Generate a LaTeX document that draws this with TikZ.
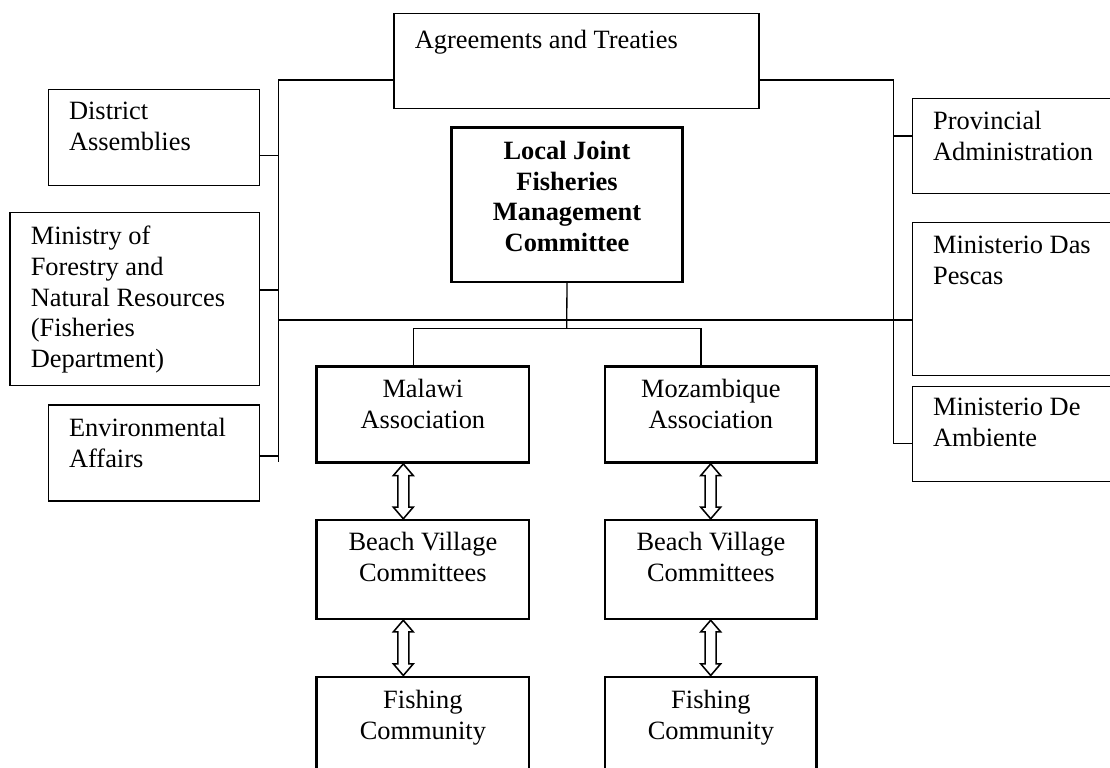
\documentclass[tikz,border=0pt]{standalone}
\usepackage{fontspec}
\setmainfont{Liberation Serif}
\usetikzlibrary{calc, fit}

\tikzset{
  box/.style={draw, line width=0.6pt, inner sep=0pt},
  boldbox/.style={box, line width=1.1pt},
  txt/.style={inner sep=0pt, font=\fontsize{12}{14}\selectfont, execute at begin node=\strut},
  ltxt/.style={txt, anchor=north west, align=left},
  ctxt/.style={txt, anchor=north, align=center},
  btxt/.style={ctxt, font=\fontsize{12}{14}\selectfont\bfseries},
  link/.style={line width=0.6pt},
  twoway/.style={draw, line width=0.7pt, fill=white, line join=miter},
}

\begin{document}
\begin{tikzpicture}[x=0.4545pt, y=-0.4545pt]
  \useasboundingbox (0,0) rectangle (1110,767);
  \clip (0,0) rectangle (1110,767);

  % Agreements box at the top
  \node[box, fit={(394,13.3) (759,108.3)}] (agr) {};
  \node[ltxt] (agrT) at ($(agr.north west)+(21,13.4)$) {Agreements and Treaties};

  % Malawi side boxes
  \node[box, fit={(48.3,89.3) (259.7,185.7)}] (dist) {};
  \node[ltxt] (distT) at ($(dist.north west)+(21,13.4)$) {District\\Assemblies};
  \node[box, fit={(10,212.7) (259.7,385.3)}] (mfnr) {};
  \node[ltxt] (mfnrT) at ($(mfnr.north west)+(21,13.4)$) {Ministry of\\Forestry and\\Natural Resources\\(Fisheries\\Department)};
  \node[box, fit={(48.3,405) (259.7,501)}] (env) {};
  \node[ltxt] (envT) at ($(env.north west)+(21,13.4)$) {Environmental\\Affairs};

  % Mozambique side boxes (cut by the right edge)
  \node[box, fit={(912.3,98.3) (1130,193.7)}] (prov) {};
  \node[ltxt] (provT) at ($(prov.north west)+(21,13.4)$) {Provincial\\Administration};
  \node[box, fit={(912.3,222.7) (1130,375.7)}] (pesc) {};
  \node[ltxt] (pescT) at ($(pesc.north west)+(21,13.4)$) {Ministerio Das\\Pescas};
  \node[box, fit={(912.3,386.7) (1130,481.7)}] (amb) {};
  \node[ltxt] (ambT) at ($(amb.north west)+(21,12)$) {Ministerio De\\Ambiente};

  % Joint committee
  \node[boldbox, fit={(451.7,127.7) (682.3,282)}] (ljf) {};
  \node[btxt] (ljfT) at ($(ljf.north)+(0,14)$) {Local Joint\\Fisheries\\Management\\Committee};

  % Two columns
  \node[boldbox, fit={(316.7,366.7) (529,462.7)}] (mal) {};
  \node[ctxt] (malT) at ($(mal.north)+(0,13.4)$) {Malawi\\Association};
  \node[boldbox, fit={(605,366.7) (816.7,462.7)}] (moz) {};
  \node[ctxt] (mozT) at ($(moz.north)+(0,13.4)$) {Mozambique\\Association};
  \node[boldbox, fit={(316.7,520) (529,619)}] (mbvc) {};
  \node[ctxt] (mbvcT) at ($(mbvc.north)+(0,13.4)$) {Beach Village\\Committees};
  \node[boldbox, fit={(605,520) (816.7,619)}] (zbvc) {};
  \node[ctxt] (zbvcT) at ($(zbvc.north)+(0,13.4)$) {Beach Village\\Committees};
  \node[boldbox, fit={(316.7,676.7) (529,800)}] (mfish) {};
  \node[ctxt] (mfishT) at ($(mfish.north)+(0,14)$) {Fishing\\Community};
  \node[boldbox, fit={(605,676.7) (816.7,800)}] (zfish) {};
  \node[ctxt] (zfishT) at ($(zfish.north)+(0,14)$) {Fishing\\Community};

  % Trunk lines
  \coordinate (lt) at (278.3,80);
  \coordinate (l1) at (278.3,155.3);
  \coordinate (l2) at (278.3,290);
  \coordinate (l3) at (278.3,320);
  \coordinate (l4) at (278.3,456);
  \coordinate (lb) at (278.3,462.3);
  \coordinate (rt) at (893.3,80);
  \coordinate (r1) at (893.3,136);
  \coordinate (rb) at (893.3,443.3);
  \coordinate (br) at (566.7,328.3);
  \coordinate (bl) at (413.3,328.3);
  \coordinate (bm) at (701,328.3);
  \coordinate (ax1) at (403.3,0);
  \coordinate (ax2) at (710.7,0);

  % Left connectors
  \draw[link] (agr.west |- lt) -- (lt) -- (lb);
  \draw[link] (dist.east |- l1) -- (l1);
  \draw[link] (mfnr.east |- l2) -- (l2);
  \draw[link] (env.east |- l4) -- (l4);
  \draw[link] (l3) -- (pesc.west |- l3);

  % Right connectors
  \draw[link] (agr.east |- rt) -- (rt) -- (rb) -- (amb.west |- rb);
  \draw[link] (r1) -- (prov.west |- r1);

  % Committee to associations
  \draw[link] (ljf.south) -- (br);
  \draw[link] (mal.north -| bl) -- (bl) -- (bm) -- (moz.north -| bm);

  % Hollow two-way arrows
  \foreach \a/\b/\c in {mal/mbvc/ax1, mbvc/mfish/ax1, moz/zbvc/ax2, zbvc/zfish/ax2}
    \draw[twoway] (\a.south -| \c) -- ++(10,11.7) -- ++(-4.5,0)
      -- ($(\b.north -| \c)+(5.5,-11.7)$) -- ++(4.5,0) -- (\b.north -| \c)
      -- ++(-10,-11.7) -- ++(4.5,0) -- ($(\a.south -| \c)+(-5.5,11.7)$)
      -- ++(-4.5,0) -- cycle;
\end{tikzpicture}
\end{document}
